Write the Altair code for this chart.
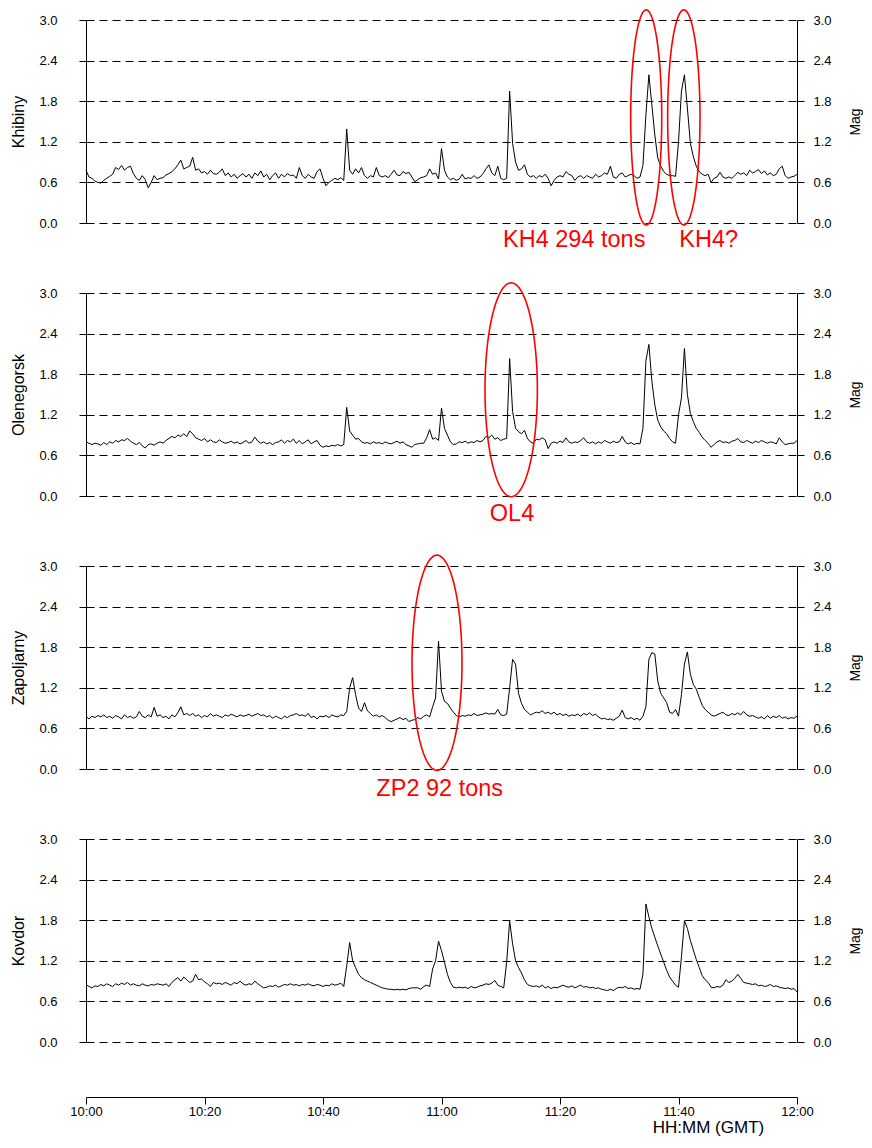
import altair as alt
import numpy as np
import pandas as pd

# ---------------- data (30 s steps from 10:00) ----------------
STATIONS = ["Khibiny", "Olenegorsk", "Zapoljarny", "Kovdor"]
STEP_MIN = 0.5

khibiny = [
    0.78, 0.68, 0.66, 0.62, 0.60, 0.59, 0.63, 0.66, 0.69, 0.72, 0.82, 0.79, 0.85, 0.78, 0.82, 0.84, 0.73, 0.66, 0.63, 0.70,
    0.64, 0.52, 0.60, 0.70, 0.64, 0.66, 0.67, 0.71, 0.73, 0.76, 0.80, 0.86, 0.93, 0.80, 0.82, 0.84, 0.97, 0.78, 0.80, 0.74,
    0.76, 0.72, 0.78, 0.73, 0.72, 0.75, 0.80, 0.70, 0.74, 0.68, 0.72, 0.66, 0.70, 0.73, 0.68, 0.72, 0.66, 0.74, 0.70, 0.77,
    0.68, 0.72, 0.64, 0.70, 0.74, 0.66, 0.72, 0.68, 0.73, 0.70, 0.71, 0.66, 0.82, 0.70, 0.66, 0.72, 0.68, 0.66, 0.76, 0.80,
    0.66, 0.55, 0.60, 0.63, 0.66, 0.64, 0.67, 0.63, 1.39, 0.78, 0.72, 0.80, 0.74, 0.82, 0.70, 0.66, 0.70, 0.68, 0.82, 0.70,
    0.68, 0.70, 0.67, 0.72, 0.78, 0.71, 0.70, 0.76, 0.73, 0.75, 0.68, 0.61, 0.64, 0.67, 0.68, 0.70, 0.80, 0.72, 0.74, 0.65,
    1.10, 0.78, 0.68, 0.64, 0.66, 0.63, 0.65, 0.72, 0.65, 0.67, 0.66, 0.70, 0.66, 0.68, 0.73, 0.80, 0.86, 0.74, 0.70, 0.84,
    0.66, 0.64, 0.66, 1.95, 1.18, 0.90, 0.78, 0.80, 0.86, 0.72, 0.68, 0.70, 0.66, 0.70, 0.68, 0.72, 0.66, 0.55, 0.63, 0.68,
    0.70, 0.68, 0.76, 0.72, 0.70, 0.63, 0.68, 0.70, 0.66, 0.70, 0.68, 0.66, 0.72, 0.68, 0.70, 0.74, 0.72, 0.84, 0.68, 0.66,
    0.72, 0.74, 0.68, 0.70, 0.72, 0.70, 0.66, 0.68, 0.85, 1.60, 2.19, 1.75, 1.30, 0.96, 0.84, 0.76, 0.72, 0.70, 0.70, 0.69,
    1.20, 1.95, 2.19, 1.70, 1.18, 0.98, 0.84, 0.76, 0.72, 0.70, 0.72, 0.60, 0.66, 0.68, 0.75, 0.68, 0.66, 0.68, 0.66, 0.70,
    0.75, 0.72, 0.74, 0.70, 0.78, 0.74, 0.76, 0.79, 0.73, 0.77, 0.71, 0.74, 0.70, 0.72, 0.80, 0.84, 0.70, 0.66, 0.68, 0.69,
    0.72,
]

olenegorsk = [
    0.80, 0.78, 0.76, 0.78, 0.77, 0.75, 0.79, 0.76, 0.80, 0.78, 0.82, 0.80, 0.83, 0.82, 0.85, 0.81, 0.78, 0.76, 0.79, 0.74,
    0.71, 0.76, 0.77, 0.75, 0.78, 0.80, 0.78, 0.82, 0.85, 0.88, 0.86, 0.90, 0.88, 0.92, 0.88, 0.96, 0.92, 0.86, 0.84, 0.82,
    0.85, 0.80, 0.83, 0.80, 0.79, 0.83, 0.80, 0.78, 0.79, 0.81, 0.78, 0.80, 0.77, 0.79, 0.82, 0.78, 0.80, 0.87, 0.81, 0.78,
    0.80, 0.77, 0.79, 0.76, 0.79, 0.80, 0.83, 0.78, 0.82, 0.80, 0.84, 0.78, 0.82, 0.77, 0.80, 0.83, 0.77, 0.80, 0.82, 0.75,
    0.72, 0.74, 0.73, 0.75, 0.74, 0.76, 0.74, 0.76, 1.31, 0.96, 0.90, 0.84, 0.85, 0.80, 0.78, 0.79, 0.77, 0.80, 0.78, 0.79,
    0.77, 0.80, 0.78, 0.77, 0.79, 0.81, 0.78, 0.80, 0.76, 0.74, 0.72, 0.76, 0.77, 0.78, 0.78, 0.86, 0.98, 0.84, 0.86, 0.82,
    1.30, 1.00, 0.90, 0.80, 0.76, 0.77, 0.80, 0.79, 0.81, 0.78, 0.80, 0.79, 0.82, 0.80, 0.82, 0.88, 0.86, 0.90, 0.84, 0.86,
    0.82, 0.84, 0.85, 2.03, 1.25, 1.00, 0.95, 0.92, 0.97, 0.85, 0.80, 0.78, 0.84, 0.83, 0.86, 0.83, 0.70, 0.78, 0.80, 0.78,
    0.81, 0.79, 0.86, 0.80, 0.78, 0.80, 0.79, 0.82, 0.86, 0.80, 0.78, 0.80, 0.77, 0.80, 0.78, 0.82, 0.80, 0.78, 0.81, 0.79,
    0.80, 0.88, 0.80, 0.77, 0.79, 0.76, 0.78, 0.77, 1.00, 2.00, 2.24, 1.70, 1.35, 1.12, 1.02, 0.96, 0.92, 0.85, 0.80, 0.78,
    1.20, 1.45, 2.18, 1.50, 1.22, 1.10, 1.00, 0.94, 0.87, 0.82, 0.78, 0.72, 0.76, 0.80, 0.82, 0.79, 0.80, 0.78, 0.81, 0.82,
    0.85, 0.80, 0.79, 0.82, 0.80, 0.78, 0.81, 0.79, 0.82, 0.80, 0.78, 0.80, 0.79, 0.77, 0.86, 0.80, 0.76, 0.77, 0.78, 0.78,
    0.82,
]

zapoljarny = [
    0.78, 0.74, 0.78, 0.76, 0.79, 0.77, 0.80, 0.76, 0.78, 0.75, 0.79, 0.77, 0.74, 0.80, 0.76, 0.78, 0.75, 0.77, 0.85, 0.78,
    0.76, 0.80, 0.77, 0.91, 0.78, 0.80, 0.76, 0.78, 0.74, 0.80, 0.77, 0.83, 0.92, 0.80, 0.82, 0.79, 0.82, 0.78, 0.80, 0.76,
    0.79, 0.77, 0.82, 0.78, 0.80, 0.78, 0.76, 0.80, 0.78, 0.81, 0.79, 0.77, 0.80, 0.78, 0.79, 0.81, 0.78, 0.80, 0.82, 0.79,
    0.80, 0.77, 0.79, 0.75, 0.78, 0.76, 0.74, 0.78, 0.76, 0.79, 0.80, 0.82, 0.79, 0.80, 0.78, 0.82, 0.76, 0.78, 0.74, 0.78,
    0.77, 0.79, 0.76, 0.80, 0.78, 0.77, 0.80, 0.79, 0.85, 1.20, 1.35, 1.10, 0.90, 0.85, 0.98, 0.86, 0.82, 0.78, 0.80, 0.77,
    0.79, 0.76, 0.72, 0.70, 0.72, 0.74, 0.76, 0.73, 0.75, 0.70, 0.72, 0.73, 0.76, 0.74, 0.78, 0.80, 0.77, 0.92, 1.05, 1.89,
    1.15, 1.00, 0.97, 0.90, 0.84, 0.79, 0.77, 0.79, 0.78, 0.80, 0.79, 0.82, 0.79, 0.80, 0.81, 0.83, 0.81, 0.82, 0.81, 0.88,
    0.80, 0.79, 0.81, 1.20, 1.62, 1.55, 1.12, 0.97, 0.88, 0.84, 0.80, 0.82, 0.84, 0.83, 0.86, 0.82, 0.84, 0.81, 0.84, 0.80,
    0.82, 0.79, 0.81, 0.78, 0.80, 0.79, 0.81, 0.78, 0.82, 0.80, 0.83, 0.79, 0.81, 0.77, 0.74, 0.75, 0.73, 0.74, 0.72, 0.75,
    0.78, 0.87, 0.76, 0.74, 0.76, 0.73, 0.75, 0.72, 0.78, 0.92, 1.62, 1.72, 1.70, 1.30, 1.12, 1.05, 0.98, 0.84, 0.82, 0.88,
    0.78, 1.10, 1.55, 1.73, 1.40, 1.25, 1.18, 1.06, 0.94, 0.88, 0.84, 0.80, 0.78, 0.80, 0.82, 0.84, 0.80, 0.79, 0.82, 0.80,
    0.83, 0.80, 0.85, 0.80, 0.78, 0.79, 0.77, 0.75, 0.77, 0.74, 0.79, 0.75, 0.78, 0.76, 0.79, 0.75, 0.77, 0.74, 0.76, 0.75,
    0.78,
]

kovdor = [
    0.85, 0.82, 0.80, 0.83, 0.82, 0.85, 0.83, 0.86, 0.84, 0.82, 0.86, 0.84, 0.87, 0.85, 0.88, 0.84, 0.86, 0.84, 0.83, 0.86,
    0.84, 0.83, 0.85, 0.84, 0.86, 0.85, 0.84, 0.86, 0.82, 0.88, 0.92, 0.95, 0.90, 0.96, 0.92, 0.88, 0.90, 1.00, 0.92, 0.93,
    0.89, 0.86, 0.82, 0.88, 0.86, 0.87, 0.85, 0.88, 0.86, 0.84, 0.88, 0.86, 0.90, 0.86, 0.84, 0.86, 0.85, 0.90, 0.86, 0.83,
    0.80, 0.81, 0.83, 0.82, 0.84, 0.81, 0.83, 0.85, 0.84, 0.86, 0.84, 0.85, 0.83, 0.85, 0.84, 0.86, 0.84, 0.83, 0.85, 0.84,
    0.82, 0.84, 0.83, 0.86, 0.84, 0.85, 0.87, 0.82, 1.12, 1.47, 1.20, 1.10, 1.00, 0.95, 0.92, 0.90, 0.88, 0.86, 0.84, 0.82,
    0.80, 0.79, 0.78, 0.78, 0.77, 0.78, 0.77, 0.78, 0.77, 0.79, 0.80, 0.80, 0.80, 0.78, 0.82, 0.84, 0.82, 1.08, 1.20, 1.49,
    1.35, 1.18, 1.00, 0.88, 0.81, 0.80, 0.81, 0.80, 0.81, 0.79, 0.82, 0.80, 0.81, 0.83, 0.84, 0.86, 0.85, 0.87, 0.91, 0.84,
    0.82, 0.80, 1.18, 1.79, 1.45, 1.20, 1.10, 1.02, 0.92, 0.85, 0.83, 0.82, 0.83, 0.81, 0.84, 0.80, 0.82, 0.79, 0.81, 0.80,
    0.82, 0.84, 0.82, 0.81, 0.83, 0.80, 0.82, 0.84, 0.81, 0.82, 0.80, 0.81, 0.79, 0.80, 0.78, 0.77, 0.76, 0.78, 0.76, 0.79,
    0.81, 0.80, 0.82, 0.79, 0.80, 0.78, 0.79, 0.78, 1.00, 2.04, 1.85, 1.68, 1.55, 1.42, 1.30, 1.18, 1.06, 0.96, 0.90, 0.84,
    0.81, 1.26, 1.79, 1.68, 1.50, 1.36, 1.22, 1.10, 0.98, 0.92, 0.88, 0.81, 0.80, 0.82, 0.81, 0.84, 0.92, 0.88, 0.90, 0.94,
    1.00, 0.94, 0.88, 0.87, 0.86, 0.85, 0.86, 0.83, 0.84, 0.82, 0.83, 0.85, 0.82, 0.83, 0.81, 0.80, 0.79, 0.80, 0.78, 0.79,
    0.74,
]

SERIES = [khibiny, olenegorsk, zapoljarny, kovdor]

Y_TICKS = [0.0, 0.6, 1.2, 1.8, 2.4, 3.0]
X_LABELS = ["10:00", "10:20", "10:40", "11:00", "11:20", "11:40", "12:00"]
X_TITLE = "HH:MM (GMT)"
RIGHT_TITLE = "Mag"

# red ellipses around events: station, centre (minutes after 10:00), centre (mag), half-width (min), half-height (mag)
ELL_STATION = ["Khibiny", "Khibiny", "Olenegorsk", "Zapoljarny"]
ELL_T = [94.55, 100.9, 71.76, 59.24]
ELL_M = [1.56, 1.56, 1.57, 1.57]
ELL_RT = [2.62, 2.73, 4.42, 4.22]
ELL_RM = [1.59, 1.59, 1.58, 1.59]

# red labels
LAB_STATION = ["Khibiny", "Khibiny", "Olenegorsk", "Zapoljarny"]
LAB_TEXT = ["KH4 294 tons", "KH4?", "OL4", "ZP2 92 tons"]
LAB_T = [82.4, 105.1, 71.9, 59.7]
LAB_M = [-0.25, -0.25, -0.27, -0.30]

FONT = "Liberation Sans"
W, H = 711, 203

xscale = alt.Scale(domain=[0, 120], nice=False, zero=False)
yscale = alt.Scale(domain=[0, 3], nice=False, zero=False)


def hhmm(s):
    h, m = s.split(":")
    return alt.DateTime(year=2000, month=1, date=1, hours=int(h), minutes=int(m))


def panel(idx):
    name = STATIONS[idx]
    vals = SERIES[idx]
    df = pd.DataFrame({"t": [i * STEP_MIN for i in range(len(vals))], "mag": vals})

    line = alt.Chart(df).mark_line(color="black", strokeWidth=1).encode(
        x=alt.X("t:Q", scale=xscale, axis=None),
        y=alt.Y("mag:Q", scale=yscale, axis=alt.Axis(
            orient="left", title=name, values=Y_TICKS, format=".1f",
            grid=True, gridDash=[8, 5], gridColor="black", gridWidth=1,
            titlePadding=12, labelPadding=22)),
    )
    right = alt.Chart(df).mark_line(opacity=0).encode(
        x=alt.X("t:Q", scale=xscale, axis=None),
        y=alt.Y("mag:Q", scale=yscale, axis=alt.Axis(
            orient="right", title=RIGHT_TITLE, values=Y_TICKS, format=".1f",
            grid=False, titleAngle=270, titleBaseline="top", titleFontSize=14,
            titlePadding=17, labelPadding=9)),
    )
    layers = [line, right]

    rows = []
    ang = np.linspace(0, 2 * np.pi, 121)
    for k, st in enumerate(ELL_STATION):
        if st != name:
            continue
        for j, a in enumerate(ang):
            rows.append({"id": k, "o": j,
                         "t": ELL_T[k] + ELL_RT[k] * np.cos(a),
                         "mag": ELL_M[k] + ELL_RM[k] * np.sin(a)})
    if rows:
        edf = pd.DataFrame(rows)
        layers.append(alt.Chart(edf).mark_line(color="red", strokeWidth=1.6).encode(
            x=alt.X("t:Q", scale=xscale, axis=None),
            y=alt.Y("mag:Q", scale=yscale, axis=None),
            detail="id:N", order="o:Q"))
    lrows = [{"t": LAB_T[k], "mag": LAB_M[k], "txt": LAB_TEXT[k]}
             for k, st in enumerate(LAB_STATION) if st == name]
    if lrows:
        ldf = pd.DataFrame(lrows)
        layers.append(alt.Chart(ldf).mark_text(
            color="red", font=FONT, fontSize=23.5, align="center", baseline="middle").encode(
            x=alt.X("t:Q", scale=xscale, axis=None),
            y=alt.Y("mag:Q", scale=yscale, axis=None),
            text="txt:N"))

    return alt.layer(*layers).resolve_axis(y="independent").properties(width=W, height=H)


# time axis shown under the last panel (same 10:00-12:00 span over the same width)
axis_df = pd.DataFrame({"time": ["2000-01-01T10:00:00", "2000-01-01T12:00:00"]})
time_axis = alt.Chart(axis_df).mark_point(opacity=0).encode(
    x=alt.X("time:T",
            scale=alt.Scale(domain=[hhmm(X_LABELS[0]), hhmm(X_LABELS[-1])], nice=False),
            axis=alt.Axis(values=[hhmm(s) for s in X_LABELS], format="%H:%M",
                          title=X_TITLE, offset=-16, grid=False, tickSize=7, labelPadding=1,
                          labelFontSize=13, titleFontSize=17, titleX=622, titleY=30,
                          titleAlign="center", titleBaseline="middle", labelFlush=False)),
).properties(width=W, height=1)

chart = alt.vconcat(*[panel(i) for i in range(4)], time_axis, spacing=70, bounds="flush").properties(
    padding={"left": 2, "top": -2, "right": 0, "bottom": 1}
).configure_view(stroke=None).configure_axis(
    labelFont=FONT, titleFont=FONT, labelFontSize=13, titleFontSize=16,
    titleFontWeight="normal", labelColor="black", titleColor="black",
    tickColor="black", domainColor="black", tickSize=7, domainWidth=1, tickWidth=1,
)

chart.save("out.html", embed_options={"renderer": "svg", "actions": False})
